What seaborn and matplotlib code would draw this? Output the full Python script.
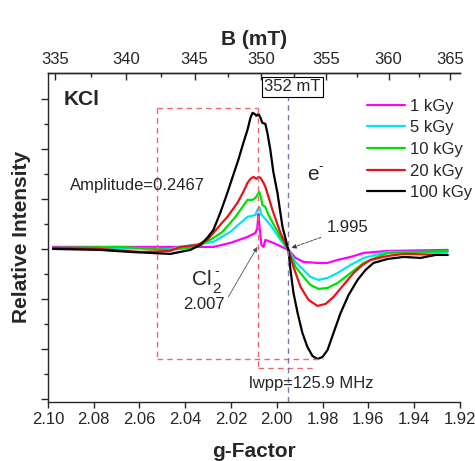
import numpy as np
import pandas as pd
import matplotlib
matplotlib.use("Agg")
import matplotlib.pyplot as plt
import seaborn as sns

# ---------------- data ----------------
doses = ["1 kGy", "5 kGy", "10 kGy", "20 kGy", "100 kGy"]
colors = ["#ff00ff", "#00e5f0", "#00e000", "#e8121a", "#000000"]

g_black = [2.0978, 2.0772, 2.0641, 2.0553, 2.0466, 2.0422, 2.0378, 2.0334, 2.0304, 2.0277,
           2.0247, 2.0216, 2.0190, 2.0168, 2.0146, 2.0128, 2.0115, 2.0106, 2.0097, 2.0089,
           2.0080, 2.0071, 2.0063, 2.0050, 2.0041, 2.0028, 2.0015, 1.9997, 1.9975, 1.9949,
           1.9940, 1.9927, 1.9909, 1.9888, 1.9866, 1.9844, 1.9822, 1.9800, 1.9778, 1.9752,
           1.9721, 1.9686, 1.9647, 1.9612, 1.9577, 1.9515, 1.9445, 1.9371, 1.9305, 1.9253]
v_black = [0.000, -0.001, -0.003, -0.004, -0.005, -0.003, -0.001, 0.004, 0.011, 0.019,
           0.036, 0.056, 0.074, 0.089, 0.106, 0.119, 0.131, 0.136, 0.135, 0.133,
           0.135, 0.131, 0.126, 0.125, 0.116, 0.099, 0.077, 0.056, 0.022, -0.001,
           -0.021, -0.044, -0.064, -0.084, -0.098, -0.107, -0.110, -0.108, -0.101, -0.084,
           -0.064, -0.046, -0.031, -0.021, -0.014, -0.010, -0.008, -0.009, -0.006, -0.006]

g_red = [2.0978, 2.0772, 2.0597, 2.0466, 2.0422, 2.0347, 2.0304, 2.0277, 2.0247, 2.0216,
         2.0172, 2.0146, 2.0128, 2.0115, 2.0102, 2.0089, 2.0080, 2.0071, 2.0058, 2.0050,
         2.0036, 2.0019, 1.9984, 1.9949, 1.9927, 1.9896, 1.9861, 1.9822, 1.9787, 1.9752,
         1.9708, 1.9664, 1.9625, 1.9590, 1.9515, 1.9445, 1.9253]
v_red = [0.001, 0.000, -0.003, -0.002, 0.002, 0.004, 0.009, 0.016, 0.024, 0.032,
         0.046, 0.057, 0.066, 0.070, 0.072, 0.070, 0.072, 0.071, 0.066, 0.062,
         0.052, 0.039, 0.016, -0.001, -0.018, -0.038, -0.051, -0.057, -0.055, -0.048,
         -0.036, -0.024, -0.016, -0.011, -0.007, -0.005, -0.006]

g_green = [2.0978, 2.0685, 2.0466, 2.0347, 2.0277, 2.0238, 2.0203, 2.0181, 2.0159, 2.0128,
           2.0106, 2.0093, 2.0085, 2.0076, 2.0067, 2.0063, 2.0050, 2.0036, 1.9984, 1.9949,
           1.9918, 1.9883, 1.9853, 1.9817, 1.9778, 1.9734, 1.9677, 1.9620, 1.9559, 1.9515,
           1.9371, 1.9253]
v_green = [0.001, 0.002, -0.001, 0.002, 0.011, 0.017, 0.026, 0.032, 0.039, 0.049,
           0.049, 0.051, 0.054, 0.057, 0.049, 0.044, 0.042, 0.034, 0.012, -0.001,
           -0.018, -0.028, -0.036, -0.040, -0.039, -0.034, -0.024, -0.014, -0.008, -0.004,
           -0.003, -0.002]

g_cyan = [2.0978, 2.0466, 2.0422, 2.0277, 2.0203, 2.0159, 2.0128, 2.0093, 2.0085, 2.0076,
          2.0067, 2.0058, 2.0028, 1.9984, 1.9949, 1.9918, 1.9883, 1.9853, 1.9817, 1.9778,
          1.9734, 1.9677, 1.9620, 1.9515, 1.9253]
v_cyan = [0.001, 0.000, 0.002, 0.007, 0.017, 0.026, 0.032, 0.034, 0.039, 0.042,
          0.034, 0.032, 0.024, 0.009, -0.001, -0.013, -0.021, -0.028, -0.031, -0.029,
          -0.024, -0.016, -0.009, -0.003, -0.003]

g_mag = [2.0978, 2.0277, 2.0203, 2.0128, 2.0093, 2.0085, 2.0080, 2.0076, 2.0067, 2.0058,
         2.0050, 2.0015, 1.9949, 1.9918, 1.9883, 1.9822, 1.9778, 1.9734, 1.9677, 1.9620,
         1.9515, 1.9253]
v_mag = [0.002, 0.002, 0.006, 0.012, 0.016, 0.021, 0.035, 0.024, 0.004, 0.002,
         0.009, 0.006, -0.001, -0.009, -0.013, -0.014, -0.014, -0.011, -0.008, -0.004,
         -0.002, -0.001]

g_ticks = [2.10, 2.08, 2.06, 2.04, 2.02, 2.00, 1.98, 1.96, 1.94, 1.92]
b_ticks = [335, 340, 345, 350, 355, 360, 365]

E_G = 1.995          # e- centre
PEAK_G = 2.008       # Cl2- / peak position
TROUGH_G = 1.982     # trough position
HNU_MUB = 702.4      # B(mT) * g

# ---------------- figure ----------------
sns.set_theme(style="ticks")
plt.rcParams["font.family"] = ["Liberation Sans", "DejaVu Sans"]

series = [(g_mag, v_mag), (g_cyan, v_cyan), (g_green, v_green), (g_red, v_red), (g_black, v_black)]
frames = []
for d, (gg, vv) in zip(doses, series):
    frames.append(pd.DataFrame({"g": gg, "I": vv, "dose": d}))
df = pd.concat(frames, ignore_index=True)

fig = plt.figure(figsize=(4.75, 4.61), dpi=100)
ax = fig.add_axes([0.101, 0.128, 0.867, 0.714])

sns.lineplot(data=df, x="g", y="I", hue="dose", hue_order=doses,
             palette=dict(zip(doses, colors)), estimator=None, sort=False,
             linewidth=1.6, ax=ax)

ax.set_xlim(2.10, 1.92)
ax.set_ylim(-0.153, 0.176)
ax.set_xticks(g_ticks)
ax.set_xticklabels([f"{t:.2f}" for t in g_ticks])
ax.set_yticks(np.arange(-0.15, 0.17, 0.05))
ax.set_yticks(np.arange(-0.125, 0.17, 0.05), minor=True)
ax.set_yticklabels([])
ax.tick_params(axis="x", which="major", direction="out", length=4, width=1, labelsize=12, pad=3)
ax.tick_params(axis="y", which="major", direction="out", length=5, width=1)
ax.tick_params(axis="y", which="minor", direction="out", length=3, width=1)
for s in ["left", "bottom", "top", "right"]:
    ax.spines[s].set_linewidth(1.0)
ax.spines["right"].set_visible(False)
ax.set_xlabel("g-Factor", fontsize=15, fontweight="bold", labelpad=11)
ax.set_ylabel("Relative Intensity", fontsize=15, fontweight="bold", labelpad=4)

sec = ax.secondary_xaxis("top", functions=(lambda g: HNU_MUB / np.asarray(g, float),
                                          lambda b: HNU_MUB / np.asarray(b, float)))
sec.set_xticks(b_ticks)
sec.set_xticks(np.arange(337.5, 365, 5), minor=True)
sec.set_xticklabels([str(b) for b in b_ticks])
sec.tick_params(axis="x", which="major", direction="in", length=5, width=1, labelsize=12, pad=4)
sec.tick_params(axis="x", which="minor", direction="in", length=3, width=1)
sec.spines["top"].set_linewidth(1.0)
sec.set_xlabel("B (mT)", fontsize=15, fontweight="bold", labelpad=5)

# legend
leg = ax.legend(loc="upper left", bbox_to_anchor=(0.772, 0.786), bbox_transform=fig.transFigure,
                frameon=False, fontsize=12, handlelength=2.3, handletextpad=0.3,
                labelspacing=0.4, borderpad=0.0, borderaxespad=0.0)

# dashed guide lines
red = "#ee6670"
dash = dict(color=red, lw=1.0, ls=(0, (4, 3)))
LEFT_G = 2.0523
TOP_V, BOT1_V, BOT2_V = 0.141, -0.110, -0.119
ax.plot([LEFT_G, PEAK_G], [TOP_V, TOP_V], **dash)
ax.plot([LEFT_G, LEFT_G], [TOP_V, BOT1_V], **dash)
ax.plot([LEFT_G, 1.9796], [BOT1_V, BOT1_V], **dash)
ax.plot([PEAK_G, PEAK_G], [TOP_V, BOT2_V], **dash)
ax.plot([PEAK_G, 1.9831], [BOT2_V, BOT2_V], **dash)
ax.plot([E_G, E_G], [-0.153, 0.153], color="#7878a8", lw=1.0, ls=(0, (4, 3)))

# texts
ax.text(2.0851, 0.149, "KCl", fontsize=15, fontweight="bold", ha="center", va="center")
ax.text(1.9931, 0.162, "352 mT", fontsize=12, ha="center", va="center",
        bbox=dict(boxstyle="square,pad=0.15", fc="white", ec="black", lw=0.8))
ax.text(2.061, 0.063, "Amplitude=0.2467", fontsize=12, ha="center", va="center")
ax.text(1.9844, 0.074, "e", fontsize=15, ha="center", va="center")
ax.text(1.9807, 0.083, "-", fontsize=10, ha="center", va="center")
ax.text(2.0326, -0.031, "Cl", fontsize=15, ha="center", va="center")
ax.text(2.0262, -0.040, "2", fontsize=11, ha="center", va="center")
ax.text(2.0262, -0.022, "-", fontsize=10, ha="center", va="center")
ax.text(2.0317, -0.056, "2.007", fontsize=12, ha="center", va="center")
ax.text(1.9848, -0.135, "lwpp=125.9 MHz", fontsize=12, ha="center", va="center")
ax.annotate("1.995", xy=(1.9936, 0.001), xytext=(1.969, 0.021), fontsize=12,
            ha="center", va="center",
            arrowprops=dict(arrowstyle="-|>", lw=0.6, ls="--", color="#333333",
                            mutation_scale=7, shrinkA=2, shrinkB=0))
ax.annotate("", xy=(2.0085, 0.002), xytext=(2.0212, -0.048),
            arrowprops=dict(arrowstyle="-|>", lw=0.6, color="#555555",
                            mutation_scale=7, shrinkA=0, shrinkB=0))

fig.savefig("out.png", dpi=100)
